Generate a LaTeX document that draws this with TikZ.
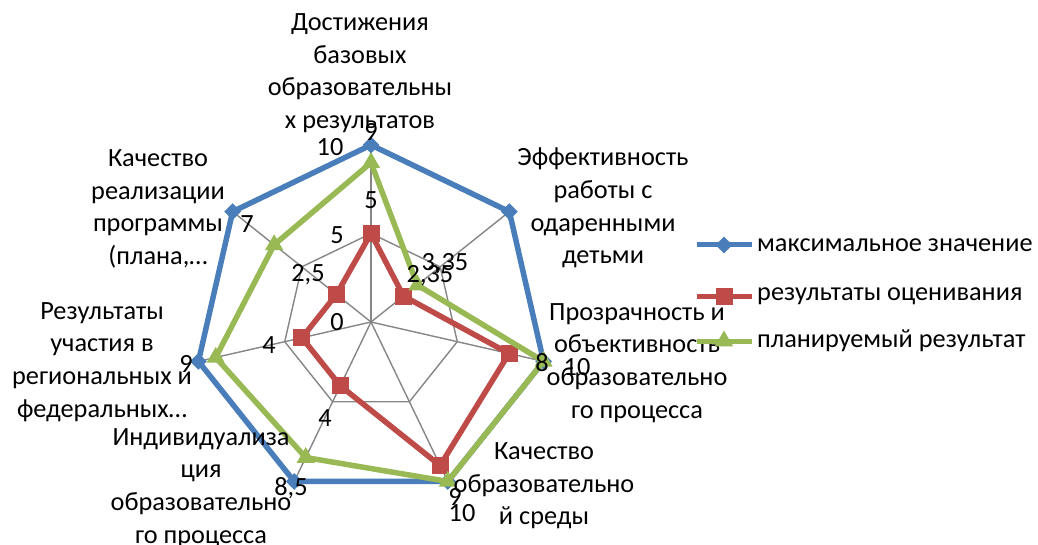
\documentclass[tikz,border=0pt]{standalone}
\usepackage{fontspec}
\setmainfont{Carlito}
\usetikzlibrary{shapes.geometric}
\definecolor{sblue}{HTML}{4A7EBB}
\definecolor{sred}{HTML}{BE4B48}
\definecolor{sgreen}{HTML}{98B954}
\definecolor{sgrid}{HTML}{868686}
\begin{document}
\begin{tikzpicture}[x=1pt,y=1pt,
  txt/.style={font=\fontsize{26.3}{32.6}\selectfont, align=center, inner sep=0pt},
  gridline/.style={draw=sgrid, line width=1.4pt},
  bline/.style={draw=sblue, line width=5.5pt, line join=round},
  rline/.style={draw=sred, line width=5.5pt, line join=round},
  gline/.style={draw=sgreen, line width=5.5pt, line join=round},
  bmark/.style={diamond, fill=sblue, minimum size=17pt, inner sep=0pt},
  rmark/.style={rectangle, fill=sred, minimum size=17pt, inner sep=0pt},
  gmark/.style={regular polygon, regular polygon sides=3, fill=sgreen, minimum size=21pt, inner sep=0pt}]
\useasboundingbox (0,0) rectangle (1038,-545);
\def\cx{371}\def\cy{-322}
% axis points
\coordinate (c) at (\cx,\cy);
\foreach \k in {0,...,6}{
  \coordinate (o\k) at ({\cx+177*cos(90-51.428571*\k)},{\cy+177*sin(90-51.428571*\k)});
  \coordinate (m\k) at ({\cx+88.5*cos(90-51.428571*\k)},{\cy+88.5*sin(90-51.428571*\k)});
}
% grid
\foreach \k in {0,...,6}{ \draw[gridline] (c) -- (o\k); }
\draw[gridline] (m0)--(m1)--(m2)--(m3)--(m4)--(m5)--(m6)--cycle;
\draw[gridline] (o0)--(o1)--(o2)--(o3)--(o4)--(o5)--(o6)--cycle;
% data points
\foreach \k/\rv/\gv in {0/5/9,1/2.35/3.35,2/8/10,3/9/10,4/4/8.5,5/4/9,6/2.5/7}{
  \coordinate (b\k) at ({\cx+177*cos(90-51.428571*\k)},{\cy+177*sin(90-51.428571*\k)});
  \coordinate (r\k) at ({\cx+17.7*\rv*cos(90-51.428571*\k)},{\cy+17.7*\rv*sin(90-51.428571*\k)});
  \coordinate (g\k) at ({\cx+17.7*\gv*cos(90-51.428571*\k)},{\cy+17.7*\gv*sin(90-51.428571*\k)});
}
\draw[bline] (b0)--(b1)--(b2)--(b3)--(b4)--(b5)--(b6)--cycle;
\foreach \k in {0,...,6}{ \node[bmark] at (b\k) {}; }
\draw[rline] (r0)--(r1)--(r2)--(r3)--(r4)--(r5)--(r6)--cycle;
\foreach \k in {0,...,6}{ \node[rmark] at (r\k) {}; }
\draw[gline] (g0)--(g1)--(g2)--(g3)--(g4)--(g5)--(g6)--cycle;
\foreach \k in {0,...,6}{ \node[gmark] at (g\k) {}; }
% category labels
\node[txt] (cat0) at (360,-73) {Достижения\\базовых\\образовательны\\х результатов};
\node[txt] (cat1) at (603,-208) {Эффективность\\работы с\\одаренными\\детьми};
\node[txt] (cat2) at (637,-363) {Прозрачность и\\объективность\\образовательно\\го процесса};
\node[txt] (cat3) at (544,-486) {Качество\\образовательно\\й среды};
\node[txt] (cat4) at (201,-488) {Индивидуализа\\ция\\образовательно\\го процесса};
\node[txt] (cat5) at (102,-362) {Результаты\\участия в\\региональных и\\федеральных…};
\node[txt] (cat6) at (158,-209) {Качество\\реализации\\программы\\(плана,…};
% axis ticks
\node[txt] (t10) at (330,-147) {10};
\node[txt] (t5) at (337,-235) {5};
\node[txt] (t0) at (337,-322) {0};
% data labels
\node[txt] (lg0) at (371,-132) {9};
\node[txt] (lr0) at (371,-200) {5};
\node[txt] (lg1) at (445,-264) {3,35};
\node[txt] (lr1) at (430,-276) {2,35};
\node[txt] (lr2) at (542,-363) {8};
\node[txt] (lg2) at (577,-367) {10};
\node[txt] (lr3) at (455,-497) {9};
\node[txt] (lg3) at (462,-513) {10};
\node[txt] (lr4) at (325,-418) {4};
\node[txt] (lg4) at (291,-488) {8,5};
\node[txt] (lr5) at (269,-345) {4};
\node[txt] (lg5) at (186,-364) {9};
\node[txt] (lr6) at (308,-275) {2,5};
\node[txt] (lg6) at (247,-224) {7};
% legend
\coordinate (lb1) at (697,-245); \coordinate (lb2) at (752,-245);
\coordinate (lr1c) at (697,-296); \coordinate (lr2c) at (752,-296);
\coordinate (lgg1) at (697,-341); \coordinate (lgg2) at (752,-341);
\draw[bline, line width=5pt] (lb1) -- (lb2);
\node[bmark] at (724,-245) {};
\draw[rline, line width=5pt] (lr1c) -- (lr2c);
\node[rmark] at (724,-296) {};
\draw[gline, line width=5pt] (lgg1) -- (lgg2);
\node[gmark] at (724,-341) {};
\node[txt, anchor=west] (legb) at (757,-245) {максимальное значение};
\node[txt, anchor=west] (legr) at (757,-296) {результаты оценивания};
\node[txt, anchor=west] (legg) at (757,-341) {планируемый результат};
\end{tikzpicture}
\end{document}
